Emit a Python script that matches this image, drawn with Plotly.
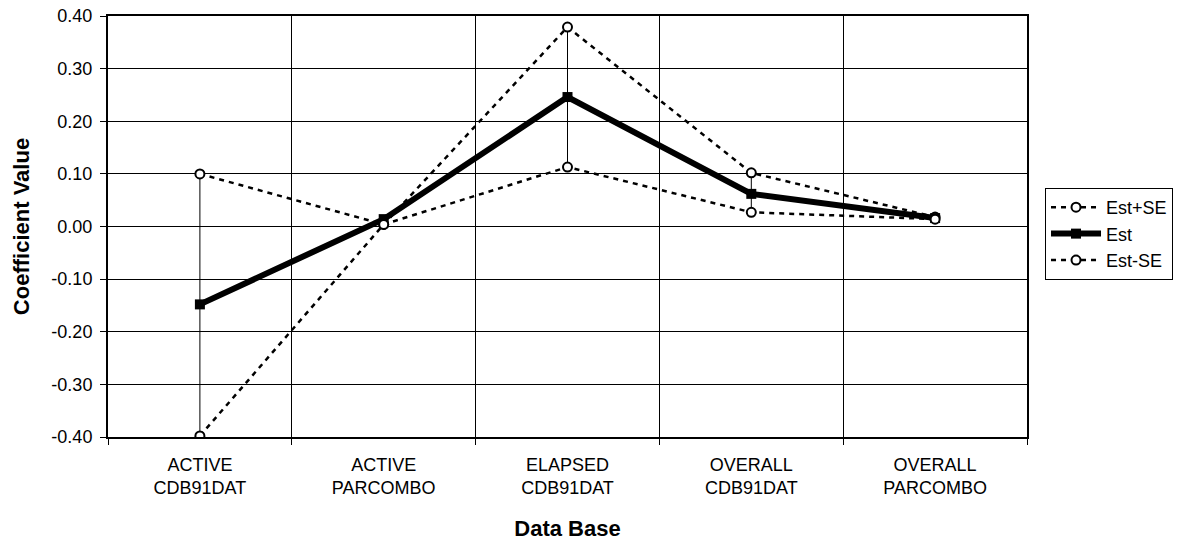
import plotly.graph_objects as go

categories = ["ACTIVE<br>CDB91DAT", "ACTIVE<br>PARCOMBO", "ELAPSED<br>CDB91DAT",
              "OVERALL<br>CDB91DAT", "OVERALL<br>PARCOMBO"]
est_plus_se = [0.100, 0.004, 0.379, 0.102, 0.018]
est = [-0.148, 0.014, 0.246, 0.062, 0.016]
est_minus_se = [-0.398, 0.004, 0.113, 0.027, 0.014]

y_tickvals = [-0.4, -0.3, -0.2, -0.1, 0.0, 0.1, 0.2, 0.3, 0.4]
y_ticktext = ["-0.40", "-0.30", "-0.20", "-0.10", "0.00", "0.10", "0.20", "0.30", "0.40"]

FONT = "Liberation Sans, Arial, sans-serif"

fig = go.Figure()

# high-low lines
hl_x, hl_y = [], []
for c, hi, lo in zip(categories, est_plus_se, est_minus_se):
    hl_x += [c, c, None]
    hl_y += [hi, lo, None]
fig.add_trace(go.Scatter(x=hl_x, y=hl_y, mode="lines", line=dict(color="black", width=1),
                         showlegend=False, hoverinfo="skip"))

fig.add_trace(go.Scatter(
    x=categories, y=est_plus_se, name="Est+SE", mode="lines+markers",
    line=dict(color="black", width=2.5, dash="5px,5px"),
    marker=dict(symbol="circle", size=9, color="white", line=dict(color="black", width=2)),
))
fig.add_trace(go.Scatter(
    x=categories, y=est, name="Est", mode="lines+markers",
    line=dict(color="black", width=6),
    marker=dict(symbol="square", size=10, color="black"),
))
fig.add_trace(go.Scatter(
    x=categories, y=est_minus_se, name="Est-SE", mode="lines+markers",
    line=dict(color="black", width=2.5, dash="5px,5px"),
    marker=dict(symbol="circle", size=9, color="white", line=dict(color="black", width=2)),
))

fig.update_layout(
    width=1190, height=548,
    margin=dict(l=108, r=163, t=16, b=111),
    paper_bgcolor="white", plot_bgcolor="white",
    font=dict(family=FONT, size=18, color="black"),
    showlegend=True,
    legend=dict(x=1.0196, y=0.5914, xanchor="left", yanchor="top",
                bordercolor="black", borderwidth=1, bgcolor="white",
                font=dict(family=FONT, size=18, color="black"),
                tracegroupgap=0, itemwidth=50),
    xaxis=dict(
        type="category", range=[-0.5, 4.5], tickson="boundaries",
        automargin=False, ticklabeloverflow="allow",
        showgrid=True, gridcolor="black", gridwidth=1,
        showline=True, linecolor="black", linewidth=2, mirror=True,
        ticks="outside", ticklen=6, tickcolor="black", ticklabelstandoff=10,
        tickfont=dict(family=FONT, size=18, color="black"),
        title=dict(text="<b>Data Base</b>", font=dict(family=FONT, size=22, color="black"), standoff=24),
        zeroline=False,
    ),
    yaxis=dict(
        range=[-0.4, 0.4], tickvals=y_tickvals, ticktext=y_ticktext,
        automargin=False, ticklabeloverflow="allow",
        showgrid=True, gridcolor="black", gridwidth=1,
        showline=True, linecolor="black", linewidth=2, mirror=True,
        ticks="outside", ticklen=6, tickcolor="black", ticklabelstandoff=4,
        tickfont=dict(family=FONT, size=18, color="black"),
        title=dict(text="<b>Coefficient Value</b>", font=dict(family=FONT, size=22, color="black"), standoff=16),
        zeroline=False,
    ),
)

fig.write_html("out.html", config={"displayModeBar": False},
               post_script="document.body.style.margin='0';document.body.style.overflow='hidden';")
